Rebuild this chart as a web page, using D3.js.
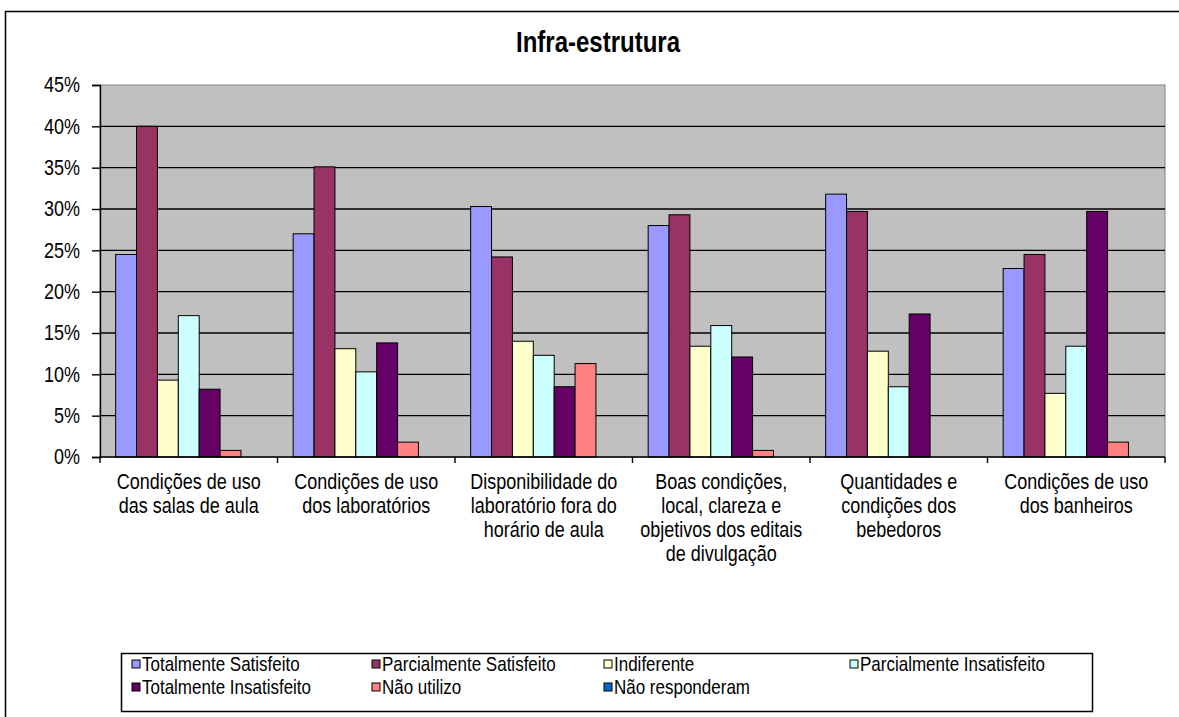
<!DOCTYPE html>
<html><head><meta charset="utf-8">
<script src="https://cdn.jsdelivr.net/npm/d3@7"></script>
<style>body{margin:0;background:#fff;} svg text{font-family:"Liberation Sans",Arial,sans-serif;fill:#000;}</style>
</head><body><svg id="c" width="1179" height="717"></svg>
<script>
const title = "Infra-estrutura";
const categories = [
  ["Condições de uso", "das salas de aula"],
  ["Condições de uso", "dos laboratórios"],
  ["Disponibilidade do", "laboratório fora do", "horário de aula"],
  ["Boas condições,", "local, clareza e", "objetivos dos editais", "de divulgação"],
  ["Quantidades e", "condições dos", "bebedoros"],
  ["Condições de uso", "dos banheiros"]
];
const seriesNames = ["Totalmente Satisfeito", "Parcialmente Satisfeito", "Indiferente",
  "Parcialmente Insatisfeito", "Totalmente Insatisfeito", "Não utilizo", "Não responderam"];
const seriesColors = ["#9999FF", "#993366", "#FFFFCC", "#CCFFFF", "#660066", "#FF8080", "#0066CC"];
const totalmenteSatisfeito     = [24.5, 27.0, 30.3, 28.0, 31.8, 22.8];
const parcialmenteSatisfeito   = [40.0, 35.1, 24.2, 29.3, 29.7, 24.5];
const indiferente              = [9.3, 13.1, 14.0, 13.4, 12.8, 7.7];
const parcialmenteInsatisfeito = [17.1, 10.3, 12.3, 15.9, 8.5, 13.4];
const totalmenteInsatisfeito   = [8.2, 13.8, 8.5, 12.1, 17.3, 29.7];
const naoUtilizo               = [0.8, 1.8, 11.3, 0.8, 0, 1.8];
const naoResponderam           = [0, 0, 0, 0, 0, 0];
const yTicks = [0, 5, 10, 15, 20, 25, 30, 35, 40, 45];

const seriesValues = [totalmenteSatisfeito, parcialmenteSatisfeito, indiferente,
  parcialmenteInsatisfeito, totalmenteInsatisfeito, naoUtilizo, naoResponderam];

const svg = d3.select("#c");
const SY = 1.2; // vertical text stretch of the original picture
const L = 100, R = 1165, T = 85, B = 457;

// outer chart border
svg.append("rect").attr("x", 5.5).attr("y", 11.5).attr("width", 1200).attr("height", 800)
  .attr("fill", "#fff").attr("stroke", "#000").attr("stroke-width", 1.5);

// title
svg.append("text").attr("transform", `translate(598,52) scale(1,${SY})`)
  .attr("text-anchor", "middle").attr("font-size", 24).attr("font-weight", "bold").text(title);

const x0 = d3.scaleBand().domain(d3.range(categories.length)).range([L, R]).padding(0);
const step = x0.bandwidth();
const gap = step * 1.5 / 8.5;
const x1 = d3.scaleBand().domain(d3.range(seriesNames.length)).range([gap / 2, step - gap / 2]).padding(0);
const y = d3.scaleLinear().domain([0, 45]).range([B, T]);

// plot background
svg.append("rect").attr("x", L).attr("y", T).attr("width", R - L).attr("height", B - T)
  .attr("fill", "#C0C0C0").attr("stroke", "#808080").attr("stroke-width", 1);

// gridlines
svg.append("g").selectAll("line").data(yTicks.filter(d => d > 0 && d < 45)).join("line")
  .attr("x1", L).attr("x2", R).attr("y1", d => y(d)).attr("y2", d => y(d))
  .attr("stroke", "#000").attr("stroke-width", 1.4);

// bars
const groups = svg.append("g").selectAll("g").data(categories).join("g")
  .attr("transform", (d, i) => `translate(${x0(i)},0)`);
groups.selectAll("rect").data((d, i) => seriesValues.map((s, k) => ({k, v: s[i]})))
  .join("rect")
  .attr("x", d => x1(d.k)).attr("width", x1.bandwidth())
  .attr("y", d => y(d.v)).attr("height", d => y(0) - y(d.v))
  .attr("fill", d => seriesColors[d.k]).attr("stroke", "#000").attr("stroke-width", 1);

// y axis
const yAxis = svg.append("g").attr("transform", `translate(${L},0)`)
  .call(d3.axisLeft(y).tickValues(yTicks).tickSize(8).tickPadding(12).tickFormat(d => d + "%"));
yAxis.select(".domain").attr("stroke", "#000").attr("stroke-width", 1.4);
yAxis.selectAll(".tick line").attr("stroke", "#000").attr("stroke-width", 1.4);
yAxis.selectAll(".tick text").attr("font-size", 18).attr("font-family", null)
  .attr("fill", "#000").attr("transform", `scale(1,${SY})`);

// x axis line and boundary ticks
svg.append("line").attr("x1", L).attr("x2", R).attr("y1", B).attr("y2", B)
  .attr("stroke", "#000").attr("stroke-width", 1.4);
svg.append("g").selectAll("line").data(d3.range(categories.length + 1)).join("line")
  .attr("x1", i => L + i * step).attr("x2", i => L + i * step)
  .attr("y1", B).attr("y2", B + 6).attr("stroke", "#000").attr("stroke-width", 1.4);

// category labels
const lab = svg.append("g").selectAll("g").data(categories).join("g")
  .attr("transform", (d, i) => `translate(${x0(i) + step / 2},489) scale(1,${SY})`);
lab.selectAll("text").data(d => d).join("text")
  .attr("text-anchor", "middle").attr("font-size", 18)
  .attr("y", (d, j) => j * 24 / SY).text(d => d);

// legend
const legX = [132, 372, 604, 850], legY = [664, 687];
svg.append("rect").attr("x", 121.5).attr("y", 653.5).attr("width", 971).attr("height", 58)
  .attr("fill", "#fff").attr("stroke", "#000").attr("stroke-width", 1.5);
const li = svg.append("g").selectAll("g").data(seriesNames).join("g")
  .attr("transform", (d, i) => `translate(${legX[i % 4]},${legY[Math.floor(i / 4)]})`);
li.append("rect").attr("x", 0).attr("y", -4).attr("width", 8).attr("height", 8)
  .attr("fill", (d, i) => seriesColors[i]).attr("stroke", "#000").attr("stroke-width", 1);
li.append("text").attr("x", 10).attr("transform", `scale(1,${SY})`).attr("dy", "0.35em")
  .attr("font-size", 17).text(d => d);
</script></body></html>
